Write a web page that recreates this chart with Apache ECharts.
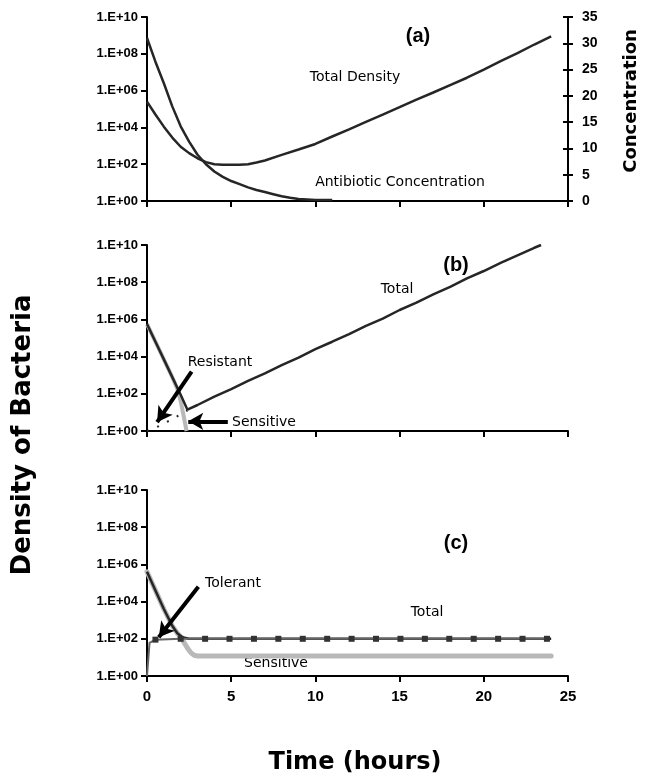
<!DOCTYPE html>
<html>
<head>
<meta charset="utf-8">
<script src="https://cdn.jsdelivr.net/npm/echarts@6/dist/echarts.min.js"></script>
<style>
  html, body { margin: 0; padding: 0; background: #fff; }
  #chart { width: 646px; height: 776px; }
</style>
</head>
<body>
<div id="chart"></div>
<script>
// ---- Panel (a): total density and antibiotic concentration ----
const timeTotalA = [0, 0.5, 1, 1.5, 2, 2.5, 3, 3.5, 4, 4.5, 5, 5.5, 6, 6.5, 7, 8, 9, 10, 11, 12, 13, 14, 15, 16, 17, 18, 19, 20, 21, 22, 23, 24];
const totalDensityA = [2.5e5, 5.0e4, 1.1e4, 2.8e3, 890, 400, 210, 130, 100, 93, 93, 93, 100, 125, 160, 320, 630, 1260, 3200, 7900, 2.0e4, 5.0e4, 1.26e5, 3.2e5, 7.9e5, 2.0e6, 5.0e6, 1.4e7, 4.0e7, 1.1e8, 3.2e8, 8.9e8];
const timeConcA = [0, 0.5, 1, 1.5, 2, 2.5, 3, 3.5, 4, 4.5, 5, 5.5, 6, 6.5, 7, 7.5, 8, 8.5, 9, 9.5, 10, 10.5, 11];
const antibioticConcA = [31, 26.5, 22.4, 18, 14.2, 11.3, 8.8, 7, 5.6, 4.6, 3.8, 3.2, 2.6, 2.1, 1.7, 1.3, 0.9, 0.6, 0.4, 0.3, 0.2, 0.2, 0.2];

// ---- Panel (b): resistant mutants ----
const timeTotalB = [0, 0.5, 1, 1.5, 2, 2.4, 3, 4, 5, 6, 7, 8, 9, 10, 11, 12, 13, 14, 15, 16, 17, 18, 19, 20, 21, 22, 23, 23.4];
const totalB = [5.6e5, 6.3e4, 7.1e3, 790, 89, 14, 25, 71, 180, 500, 1260, 3500, 8900, 2.5e4, 6.3e4, 1.6e5, 4.5e5, 1.1e6, 3.2e6, 7.9e6, 2.2e7, 5.6e7, 1.6e8, 4.0e8, 1.1e9, 2.8e9, 7.1e9, 1e10];
const timeSensitiveB = [0, 0.5, 1, 1.5, 1.8, 2.0, 2.2, 2.35];
const sensitiveB = [5.6e5, 6.3e4, 7.1e3, 790, 180, 40, 5, 1];
const timeResistantB = [0, 0.35, 1.5, 2.4];
const resistantB = [1, 1.26, 4.3, 12.6];

// ---- Panel (c): tolerant cells ----
const timeTotalC = [0, 0.5, 1, 1.5, 1.8, 2.1, 2.5, 24];
const totalC = [4e5, 4e4, 4e3, 500, 200, 120, 100, 100];
const timeSensitiveC = [0, 0.5, 1, 1.5, 1.8, 2.0, 2.2, 2.4, 2.6, 2.8, 3.0, 24];
const sensitiveC = [4e5, 4e4, 4e3, 500, 200, 126, 63, 32, 18, 13, 12, 12];
const timeTolerantC = [0, 0.15, 0.5, 2.0, 3.45, 4.9, 6.35, 7.8, 9.25, 10.7, 12.15, 13.6, 15.05, 16.5, 17.95, 19.4, 20.85, 22.3, 23.75];
const tolerantC = [1, 60, 90, 100, 100, 100, 100, 100, 100, 100, 100, 100, 100, 100, 100, 100, 100, 100, 100];

// ---- Axis scales and tick labels ----
const timeRange = [0, 25];
const timeStep = 5;
const densityRange = [1, 1e10];
const densityTickLabels = { 0: '1.E+00', 2: '1.E+02', 4: '1.E+04', 6: '1.E+06', 8: '1.E+08', 10: '1.E+10' };
const concRange = [0, 35];
const concStep = 5;

const pairs = (xs, ys) => xs.map((x, i) => [x, ys[i]]);

const BLACK = '#000';
const DARK = '#262626';
const LIGHT = '#b9b9b9';
const tickFont = 'Liberation Sans, Arial, sans-serif';
const noteFont = 'DejaVu Sans, sans-serif';

const grids = [
  { left: 147, top: 17, width: 421, height: 184 },
  { left: 147, top: 245, width: 421, height: 186 },
  { left: 147, top: 490, width: 421, height: 186 }
];

function timeAxis(idx, showLabels) {
  return {
    type: 'value', gridIndex: idx,
    min: timeRange[0], max: timeRange[1], interval: timeStep,
    axisLine: { show: true, lineStyle: { color: BLACK, width: 2 } },
    axisTick: { show: true, inside: false, length: 6, lineStyle: { color: BLACK, width: 2 } },
    axisLabel: { show: showLabels, color: BLACK, fontFamily: tickFont, fontWeight: 'bold', fontSize: 15, margin: 13 },
    splitLine: { show: false }
  };
}

function densityAxis(idx) {
  return {
    type: 'log', logBase: 10, gridIndex: idx,
    min: densityRange[0], max: densityRange[1], interval: 2,
    axisLine: { show: true, lineStyle: { color: BLACK, width: 2 } },
    axisTick: { show: true, inside: false, length: 6, lineStyle: { color: BLACK, width: 2 } },
    axisLabel: {
      color: BLACK, fontFamily: tickFont, fontWeight: 'bold', fontSize: 13, margin: 9,
      formatter: v => {
        const e = Math.round(Math.log10(v));
        return densityTickLabels[e] || '';
      }
    },
    splitLine: { show: false }
  };
}

const xAxes = [timeAxis(0, false), timeAxis(1, false), timeAxis(2, true)];
const yAxes = [
  densityAxis(0),
  {
    type: 'value', gridIndex: 0, position: 'right',
    min: concRange[0], max: concRange[1], interval: concStep,
    axisLine: { show: true, onZero: false, lineStyle: { color: BLACK, width: 2 } },
    axisTick: { show: true, inside: false, length: 5, lineStyle: { color: BLACK, width: 2 } },
    axisLabel: { color: BLACK, fontFamily: tickFont, fontWeight: 'bold', fontSize: 14, margin: 14 },
    splitLine: { show: false }
  },
  {
    // inner half of the crossing ticks on the concentration axis
    type: 'value', gridIndex: 0, position: 'right',
    min: concRange[0], max: concRange[1], interval: concStep,
    axisLine: { show: false },
    axisTick: { show: true, inside: true, length: 5, lineStyle: { color: BLACK, width: 2 } },
    axisLabel: { show: false },
    splitLine: { show: false }
  },
  densityAxis(1),
  densityAxis(2)
];

function arrow(from, to) {
  return [
    { coord: from, symbol: 'none' },
    { coord: to, symbol: 'arrow', symbolSize: [13, 15] }
  ];
}

const arrowStyle = { color: BLACK, width: 4, type: 'solid' };

const series = [
  // (a)
  {
    type: 'line', name: 'Total Density', xAxisIndex: 0, yAxisIndex: 0,
    data: pairs(timeTotalA, totalDensityA), showSymbol: false,
    lineStyle: { color: DARK, width: 2.5 }, silent: true
  },
  {
    type: 'line', name: 'Antibiotic Concentration', xAxisIndex: 0, yAxisIndex: 1,
    data: pairs(timeConcA, antibioticConcA), showSymbol: false,
    lineStyle: { color: DARK, width: 2.5 }, silent: true
  },
  // (b)
  {
    type: 'line', name: 'Sensitive', xAxisIndex: 1, yAxisIndex: 3,
    data: pairs(timeSensitiveB, sensitiveB), showSymbol: false,
    lineStyle: { color: LIGHT, width: 4 }, silent: true, z: 2
  },
  {
    type: 'line', name: 'Resistant', xAxisIndex: 1, yAxisIndex: 3,
    data: pairs(timeResistantB, resistantB), showSymbol: false,
    lineStyle: { color: DARK, width: 2, type: [2, 9] }, silent: true, z: 3
  },
  {
    type: 'line', name: 'Total', xAxisIndex: 1, yAxisIndex: 3,
    data: pairs(timeTotalB, totalB), showSymbol: false,
    lineStyle: { color: DARK, width: 2.5 }, silent: true, z: 4,
    markLine: {
      silent: true, animation: false, label: { show: false },
      lineStyle: arrowStyle,
      data: [
        arrow([2.65, 1550], [0.6, 3.0]),
        arrow([4.8, 3.3], [2.45, 3.3])
      ]
    }
  },
  // (c)
  {
    type: 'line', name: 'Sensitive', xAxisIndex: 2, yAxisIndex: 4,
    data: pairs(timeSensitiveC, sensitiveC), showSymbol: false,
    lineStyle: { color: LIGHT, width: 5, cap: 'round' }, silent: true, z: 2
  },
  {
    type: 'line', name: 'Total', xAxisIndex: 2, yAxisIndex: 4,
    data: pairs(timeTotalC, totalC), showSymbol: false,
    lineStyle: { color: DARK, width: 2.5 }, silent: true, z: 3
  },
  {
    type: 'line', name: 'Tolerant', xAxisIndex: 2, yAxisIndex: 4,
    data: pairs(timeTolerantC, tolerantC).map((p, i) => i < 2 ? { value: p, symbol: 'none' } : { value: p }),
    symbol: 'rect', symbolSize: 6, showSymbol: true, showAllSymbol: true,
    itemStyle: { color: '#333' },
    lineStyle: { color: '#666', width: 2 }, silent: true, z: 4,
    markLine: {
      silent: true, animation: false, label: { show: false },
      lineStyle: arrowStyle,
      data: [arrow([3.05, 6.3e4], [0.7, 120])]
    }
  }
];

function note(text, x, y, opts) {
  return Object.assign({
    type: 'text', x: x, y: y, silent: true,
    style: {
      text: text, fill: BLACK, font: '14px ' + noteFont,
      align: 'center', verticalAlign: 'middle'
    }
  }, opts || {});
}

function heading(text, x, y) {
  return note(text, x, y, {
    style: { text: text, fill: BLACK, font: 'bold 20px ' + tickFont, align: 'center', verticalAlign: 'middle' }
  });
}

const graphics = [
  heading('(a)', 418, 36),
  note('Total Density', 355, 77),
  note('Antibiotic Concentration', 400, 182),
  heading('(b)', 456, 265),
  note('Total', 397, 289),
  note('Resistant', 220, 362),
  note('Sensitive', 264, 422),
  heading('(c)', 456, 543),
  note('Tolerant', 233, 583),
  note('Total', 427, 612),
  note('Sensitive', 276, 663),
  {
    type: 'text', x: 23, y: 435, rotation: Math.PI / 2, silent: true,
    style: { text: 'Density of Bacteria', fill: BLACK, font: 'bold 26px DejaVu Sans, sans-serif', align: 'center', verticalAlign: 'middle' }
  },
  {
    type: 'text', x: 631, y: 101, rotation: Math.PI / 2, silent: true,
    style: { text: 'Concentration', fill: BLACK, font: 'bold 18px DejaVu Sans, sans-serif', align: 'center', verticalAlign: 'middle' }
  },
  {
    type: 'text', x: 355, y: 763, silent: true,
    style: { text: 'Time (hours)', fill: BLACK, font: 'bold 24px DejaVu Sans, sans-serif', align: 'center', verticalAlign: 'middle' }
  }
];

const chart = echarts.init(document.getElementById('chart'), null, { renderer: 'canvas' });
chart.setOption({
  backgroundColor: '#fff',
  animation: false,
  grid: grids.map(g => Object.assign({ outerBoundsMode: 'none', containLabel: false }, g)),
  xAxis: xAxes,
  yAxis: yAxes,
  series: series,
  graphic: graphics
});
</script>
</body>
</html>
